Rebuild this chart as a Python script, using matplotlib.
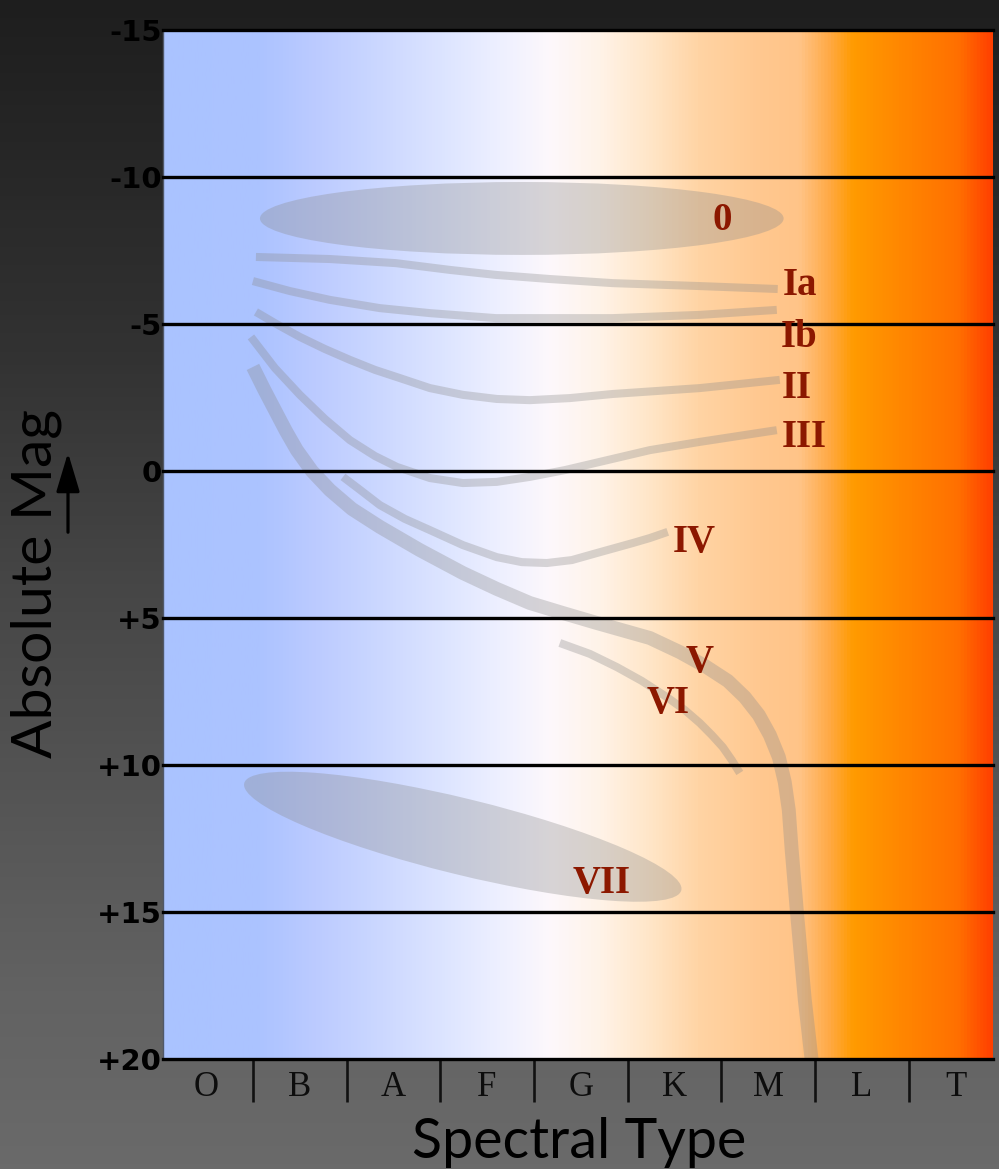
import numpy as np
import matplotlib
matplotlib.use('Agg')
import matplotlib.pyplot as plt
import matplotlib.transforms as mtransforms
from matplotlib.patches import Ellipse, FancyArrowPatch
from matplotlib.colors import LinearSegmentedColormap

# axis categories / ticks
spectral_types = ['O', 'B', 'A', 'F', 'G', 'K', 'M', 'L', 'T']
mag_ticks = [-15, -10, -5, 0, 5, 10, 15, 20]
mag_labels = ['-15', '-10', '-5', '0', '+5', '+10', '+15', '+20']

# background colour along the spectral axis
bg_x = [0.04, 1.07, 1.67, 2.21, 3.0, 3.64, 4.17, 4.70, 5.24, 5.77, 6.41, 6.84, 7.16, 7.42, 7.90, 8.54, 8.90]
bg_rgb = [(170, 195, 255), (172, 195, 255), (188, 203, 255), (200, 213, 255), (220, 228, 255),
          (238, 240, 255), (253, 248, 252), (255, 243, 232), (255, 230, 200), (255, 212, 164),
          (255, 200, 144), (255, 196, 136), (255, 170, 70), (255, 155, 0), (255, 136, 0),
          (255, 112, 0), (255, 64, 0)]

# luminosity class tracks: spectral position, absolute magnitude
ia_x = [1.032, 1.822, 2.526, 3.102, 3.593, 4.169, 4.842, 5.770, 6.602]
ia_y = [-7.28, -7.21, -7.07, -6.84, -6.67, -6.53, -6.39, -6.29, -6.19]
ib_x = [1.000, 1.395, 1.822, 2.355, 2.889, 3.593, 4.842, 5.770, 6.592]
ib_y = [-6.46, -6.12, -5.82, -5.54, -5.37, -5.20, -5.20, -5.31, -5.48]
ii_x = [1.032, 1.267, 1.501, 1.768, 2.035, 2.302, 2.569, 2.889, 3.241, 3.603, 3.956, 4.383,
        4.842, 5.770, 6.624]
ii_y = [-5.41, -4.97, -4.56, -4.15, -3.78, -3.44, -3.16, -2.82, -2.59, -2.45, -2.41, -2.48,
        -2.62, -2.82, -3.10]
iii_x = [0.979, 1.235, 1.501, 1.768, 2.035, 2.302, 2.536, 2.889, 3.241, 3.603, 3.956, 4.329,
         4.703, 5.237, 5.770, 6.592]
iii_y = [-4.56, -3.50, -2.59, -1.77, -1.05, -0.51, -0.14, 0.24, 0.41, 0.37, 0.20, -0.03,
         -0.31, -0.71, -0.99, -1.39]
iv_x = [1.961, 2.143, 2.355, 2.622, 2.889, 3.241, 3.603, 3.870, 4.137, 4.404, 4.671, 4.863,
        5.055, 5.237, 5.428]
iv_y = [0.20, 0.64, 1.16, 1.63, 2.01, 2.52, 2.93, 3.10, 3.13, 3.03, 2.79, 2.62, 2.45, 2.28, 2.07]
v_x = [1.000, 1.117, 1.235, 1.352, 1.469, 1.629, 1.822, 2.057, 2.355, 2.782, 3.241, 3.603,
       3.956, 4.308, 4.671, 5.237, 5.557, 5.824, 6.070, 6.250, 6.400, 6.518, 6.614, 6.677,
       6.720, 6.751, 6.805, 6.848, 6.891, 6.976]
v_y = [-3.54, -2.79, -2.07, -1.36, -0.71, 0.00, 0.65, 1.29, 1.90, 2.69, 3.47, 4.01,
       4.49, 4.83, 5.17, 5.68, 6.16, 6.63, 7.14, 7.69, 8.30, 8.98, 9.73, 10.58,
       11.53, 12.89, 14.93, 16.46, 17.99, 20.37]
vi_x = [4.276, 4.596, 4.885, 5.151, 5.418, 5.610, 5.770, 5.898, 6.015, 6.111, 6.197]
vi_y = [5.85, 6.22, 6.67, 7.14, 7.69, 8.13, 8.57, 8.98, 9.39, 9.83, 10.27]

# hypergiant (0) and white dwarf (VII) regions
hyper_center = (3.87, -8.59)
hyper_size = (5.59, 2.48)
wd_center = (3.24, 12.44)

class_names = ['0', 'Ia', 'Ib', 'II', 'III', 'IV', 'V', 'VI', 'VII']
class_x = [6.013, 6.835, 6.835, 6.805, 6.880, 5.716, 5.770, 5.428, 4.724]
class_y = [-8.20, -5.99, -4.22, -2.48, -0.82, 2.76, 6.84, 8.23, 14.35]

fig = plt.figure(figsize=(9.99, 11.69), dpi=100)

# dark grey backdrop, lighter toward the bottom
bg = fig.add_axes([0, 0, 1, 1], zorder=0)
fig_cmap = LinearSegmentedColormap.from_list('fig', [
    (0.0, (30/255, 30/255, 30/255)), (0.3, (50/255, 50/255, 50/255)),
    (0.5, (70/255, 70/255, 70/255)), (0.7, (86/255, 86/255, 86/255)),
    (0.85, (98/255, 98/255, 98/255)), (1.0, (106/255, 106/255, 106/255))])
bg.imshow(np.linspace(0, 1, 256).reshape(-1, 1), cmap=fig_cmap, aspect='auto',
          extent=[0, 1, 0, 1])
bg.axis('off')

ax = fig.add_axes([163/999, 1 - 1059/1169, (993-163)/999, (1059-30)/1169], zorder=1)
xmin, xmax = 0.04, 8.90
ax.set_xlim(xmin, xmax)
ax.set_ylim(20, -15)

pos = [(x - xmin) / (xmax - xmin) for x in bg_x]
cmap = LinearSegmentedColormap.from_list('spec', [(p, tuple(c/255 for c in rgb)) for p, rgb in zip(pos, bg_rgb)])
ax.imshow(np.linspace(0, 1, 1024).reshape(1, -1), cmap=cmap, aspect='auto',
          extent=[xmin, xmax, 20, -15], zorder=0)

shade = dict(color='#8a8a8a', alpha=0.33)
ax.add_patch(Ellipse(hyper_center, hyper_size[0], hyper_size[1], lw=0, zorder=1, **shade))
wd_trans = fig.dpi_scale_trans + mtransforms.ScaledTranslation(wd_center[0], wd_center[1], ax.transData)
ax.add_patch(Ellipse((0, 0), 4.5, 0.76, angle=-13.76, transform=wd_trans, lw=0, zorder=1, **shade))

for xs, ys in [(ia_x, ia_y), (ib_x, ib_y), (ii_x, ii_y), (iii_x, iii_y), (iv_x, iv_y), (vi_x, vi_y)]:
    ax.plot(xs, ys, lw=5.8, solid_capstyle='butt', solid_joinstyle='round', zorder=2, **shade)
ax.plot(v_x, v_y, lw=10, solid_capstyle='butt', solid_joinstyle='round', zorder=2, **shade)

for m in mag_ticks:
    ax.axhline(m, color='black', lw=2.4, zorder=3, clip_on=False)

for name, x, y in zip(class_names, class_x, class_y):
    ax.text(x, y, name, ha='center', va='baseline', color='#8c1800', fontsize=28,
            fontweight='bold', family='Liberation Serif', zorder=4)

ax.set_yticks(mag_ticks)
ax.set_yticklabels(mag_labels, fontsize=21, fontweight='bold', family='DejaVu Sans', color='black')
ax.tick_params(axis='y', length=0, pad=1)

ax.set_xticks([i + 0.5 for i in range(len(spectral_types))])
ax.set_xticklabels(spectral_types, fontsize=25, family='Liberation Serif', color='#0d0d0d')
ax.set_xticks(range(1, len(spectral_types)), minor=True)
ax.tick_params(axis='x', which='major', length=0, pad=9)
ax.tick_params(axis='x', which='minor', length=31, width=1.9, color='#111111', direction='out')

for s in ['top', 'right', 'bottom']:
    ax.spines[s].set_visible(False)
ax.spines['left'].set_color('#505868')
ax.spines['left'].set_linewidth(1)

fig.text(579/999, 1 - 1158/1169, 'Spectral Type', ha='center', va='baseline',
         fontsize=40, family='Lato', color='black')
fig.text(52/999, 1 - 583/1169, 'Absolute Mag', ha='center', va='baseline', rotation=90,
         rotation_mode='anchor', fontsize=41, family='Lato', color='black')
fig.patches.append(FancyArrowPatch(
    (68/999, 1 - 535/1169), (68/999, 1 - 450/1169), transform=fig.transFigure,
    arrowstyle='-|>,head_length=1.2,head_width=0.36', mutation_scale=20, lw=2.3, color='black'))

fig.savefig('out.png', dpi=100)
